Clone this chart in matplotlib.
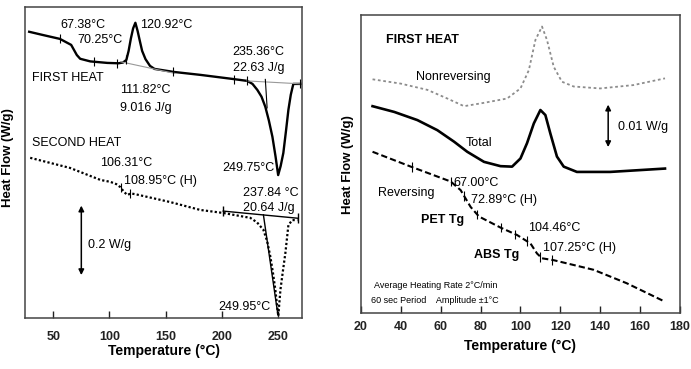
import numpy as np
import matplotlib
matplotlib.use("Agg")
import matplotlib.pyplot as plt

plt.rcParams['font.family'] = ['Liberation Sans', 'DejaVu Sans']

# ---- left panel: conventional DSC, heat flow in W/g (offset, arbitrary zero)
first_T = [28.7, 40, 56, 66, 71, 74, 83, 98, 108, 112, 115, 117, 119, 121, 123,
           125, 127, 129, 132, 136, 140, 157, 181, 210, 222.4, 227, 231.3, 235,
           238.4, 241.5, 244.7, 247.5, 249.8, 252, 254.4, 256.8, 258.9, 261,
           262.4, 263.3, 272]
first_q = [0.763, 0.755, 0.744, 0.728, 0.701, 0.691, 0.684, 0.680, 0.679, 0.681,
           0.688, 0.712, 0.745, 0.772, 0.787, 0.765, 0.738, 0.712, 0.690, 0.672,
           0.664, 0.656, 0.648, 0.637, 0.632, 0.624, 0.608, 0.590, 0.563, 0.527,
           0.483, 0.430, 0.381, 0.405, 0.440, 0.500, 0.555, 0.595, 0.613, 0.624,
           0.624]

second_T = [29.6, 65, 92, 100.7, 106, 109.6, 113, 115.8, 119, 123, 154, 180.7,
            201, 225, 231, 236.7, 240, 242.9, 245.2, 247.3, 249.9, 251.8, 254,
            256.2, 258.9, 262.4, 266.9]
second_q = [0.427, 0.400, 0.368, 0.363, 0.357, 0.349, 0.336, 0.328, 0.332, 0.330,
            0.309, 0.288, 0.280, 0.267, 0.255, 0.235, 0.205, 0.163, 0.120, 0.075,
            0.005, 0.075, 0.125, 0.173, 0.248, 0.261, 0.261]

first_marks = [56, 86, 107, 115, 156, 211, 222, 269]
second_marks = [110, 118]

# ---- right panel: MDSC, heat flow in mW/g (offset)
nonrev_T = [25.8, 40, 53.3, 63.3, 71.7, 81.7, 93.3, 100, 104.2, 107.5, 110.8,
            113.3, 116.7, 120.8, 126.7, 140, 156.7, 172.5]
nonrev_q = [48.7, 47.8, 46.5, 44.7, 43.1, 43.8, 44.7, 46.8, 50.6, 56.9, 59.7,
            56.9, 51.3, 48.2, 47.2, 46.8, 47.5, 48.9]

total_T = [25.8, 36.7, 48.3, 58.3, 66.7, 73.3, 81.7, 90, 95.8, 100, 103.3, 106.7,
           110, 112.5, 115, 118.3, 121.7, 128.3, 145, 172.5]
total_q = [43.1, 41.9, 40.2, 38.1, 35.7, 33.6, 31.5, 30.6, 30.5, 32.2, 35.4, 39.5,
           42.3, 41.25, 37.4, 32.6, 30.5, 29.4, 29.4, 30.1]

rev_T = [25.8, 45, 65, 70, 75, 79.2, 90, 98.3, 105, 108.3, 110.8, 116.7, 136.7,
         153.3, 172.5]
rev_q = [33.6, 30.5, 27.4, 25.6, 22.1, 20.1, 17.8, 16.25, 14.5, 12.4, 11.4, 11.0,
         9.0, 6.2, 2.35]
rev_marks = [45.8, 65, 71.7, 78.3, 90, 97.5, 103.3, 110, 115.8]

fig = plt.figure(figsize=(6.91, 3.69), dpi=100)
ax1 = fig.add_axes([0.0362, 0.1382, 0.4009, 0.8428])
ax2 = fig.add_axes([0.5224, 0.1518, 0.4616, 0.8075])

for ax in (ax1, ax2):
    for s in ax.spines.values():
        s.set_color('#444444')
        s.set_linewidth(1.1)
    ax.set_yticks([])
    ax.tick_params(axis='x', direction='in', length=5, width=1, labelsize=9,
                   colors='#222222')

# left
ax1.plot(first_T, first_q, color='black', lw=1.7)
ax1.plot(second_T, second_q, color='black', lw=1.6, ls=(0, (1, 1)))
ax1.plot([110, 158], [0.683, 0.652], color='#999999', lw=0.8)
ax1.plot([222, 271], [0.632, 0.624], color='#999999', lw=0.8)
ax1.plot([238.4, 240], [0.636, 0.56], color='black', lw=0.8)
ax1.plot([201, 267], [0.285, 0.266], color='black', lw=1.0)
ax1.plot([236.7, 249.5], [0.275, 0.01], color='black', lw=1.0)
ax1.vlines([201, 267], [0.271, 0.252], [0.299, 0.280], color='black', lw=1.0)
m = np.interp(first_marks, first_T, first_q)
ax1.vlines(first_marks, m - 0.012, m + 0.012, color='black', lw=0.8)
m = np.interp(second_marks, second_T, second_q)
ax1.vlines(second_marks, m - 0.012, m + 0.012, color='black', lw=0.8)

ax1.annotate('', xy=(75, 0.107), xytext=(75, 0.307),
             arrowprops=dict(arrowstyle='<|-|>', color='black', lw=1.1,
                             mutation_scale=8))
fs = 9
ax1.text(56.2, 0.781, '67.38°C', fontsize=fs, va='center')
ax1.text(71.3, 0.741, '70.25°C', fontsize=fs, va='center')
ax1.text(127, 0.781, '120.92°C', fontsize=fs, va='center')
ax1.text(31.3, 0.640, 'FIRST HEAT', fontsize=fs, va='center')
ax1.text(109.6, 0.608, '111.82°C', fontsize=fs, va='center')
ax1.text(109.6, 0.560, '9.016 J/g', fontsize=fs, va='center')
ax1.text(209, 0.709, '235.36°C', fontsize=fs, va='center')
ax1.text(210, 0.667, '22.63 J/g', fontsize=fs, va='center')
ax1.text(31.3, 0.467, 'SECOND HEAT', fontsize=fs, va='center')
ax1.text(91.8, 0.413, '106.31°C', fontsize=fs, va='center')
ax1.text(113, 0.365, '108.95°C (H)', fontsize=fs, va='center')
ax1.text(200, 0.400, '249.75°C', fontsize=fs, va='center')
ax1.text(219, 0.333, '237.84 °C', fontsize=fs, va='center')
ax1.text(219, 0.293, '20.64 J/g', fontsize=fs, va='center')
ax1.text(196.7, 0.029, '249.95°C', fontsize=fs, va='center')
ax1.text(81, 0.195, '0.2 W/g', fontsize=fs, va='center')

ax1.set_xlim(25, 271)
ax1.set_ylim(0, 0.829)
ax1.set_xticks([50, 100, 150, 200, 250])
ax1.tick_params(axis='x', pad=9)
ax1.set_xlabel('Temperature (°C)', fontsize=10, fontweight='bold', labelpad=1)

# right
ax2.plot(nonrev_T, nonrev_q, color='#8c8c8c', lw=1.3, ls=(0, (1.5, 1.5)))
ax2.plot(total_T, total_q, color='black', lw=1.9)
ax2.plot(rev_T, rev_q, color='black', lw=1.5, ls=(0, (3, 1.5)))
m = np.interp(rev_marks, rev_T, rev_q)
ax2.vlines(rev_marks, m - 1.0, m + 1.0, color='black', lw=0.8)

ax2.annotate('', xy=(144, 34), xytext=(144, 44),
             arrowprops=dict(arrowstyle='<|-|>', color='black', lw=1.1,
                             mutation_scale=8))
ax2.text(32.5, 56.9, 'FIRST HEAT', fontsize=fs, fontweight='bold', va='center')
ax2.text(47.5, 49.2, 'Nonreversing', fontsize=fs, va='center')
ax2.text(72.5, 35.4, 'Total', fontsize=fs, va='center')
ax2.text(149, 38.75, '0.01 W/g', fontsize=fs, va='center')
ax2.text(28.5, 25.0, 'Reversing', fontsize=fs, va='center')
ax2.text(66.5, 27.1, '67.00°C', fontsize=fs, va='center')
ax2.text(75, 23.5, '72.89°C (H)', fontsize=fs, va='center')
ax2.text(50, 19.4, 'PET Tg', fontsize=fs, fontweight='bold', va='center')
ax2.text(104, 17.7, '104.46°C', fontsize=fs, va='center')
ax2.text(111.5, 13.5, '107.25°C (H)', fontsize=fs, va='center')
ax2.text(76.5, 12.1, 'ABS Tg', fontsize=fs, fontweight='bold', va='center')
ax2.text(26.5, 5.8, 'Average Heating Rate 2°C/min', fontsize=6.5, va='center')
ax2.text(25, 2.7, '60 sec Period    Amplitude ±1°C', fontsize=6.5, va='center')

ax2.set_xlim(20, 180)
ax2.set_ylim(0, 62.1)
ax2.set_xticks(np.arange(20, 181, 20))
ax2.tick_params(axis='x', pad=6)
ax2.set_xlabel('Temperature (°C)', fontsize=10, fontweight='bold', labelpad=4)

for ax in (ax1, ax2):
    for lbl in ax.get_xticklabels():
        lbl.set_fontweight('bold')

fig.text(8 / 691, 1 - 158 / 369, 'Heat Flow (W/g)', rotation=90, fontsize=9.5,
         fontweight='bold', ha='center', va='center')
fig.text(348 / 691, 1 - 165 / 369, 'Heat Flow (W/g)', rotation=90, fontsize=9.5,
         fontweight='bold', ha='center', va='center')

fig.savefig('out.png', dpi=100)
